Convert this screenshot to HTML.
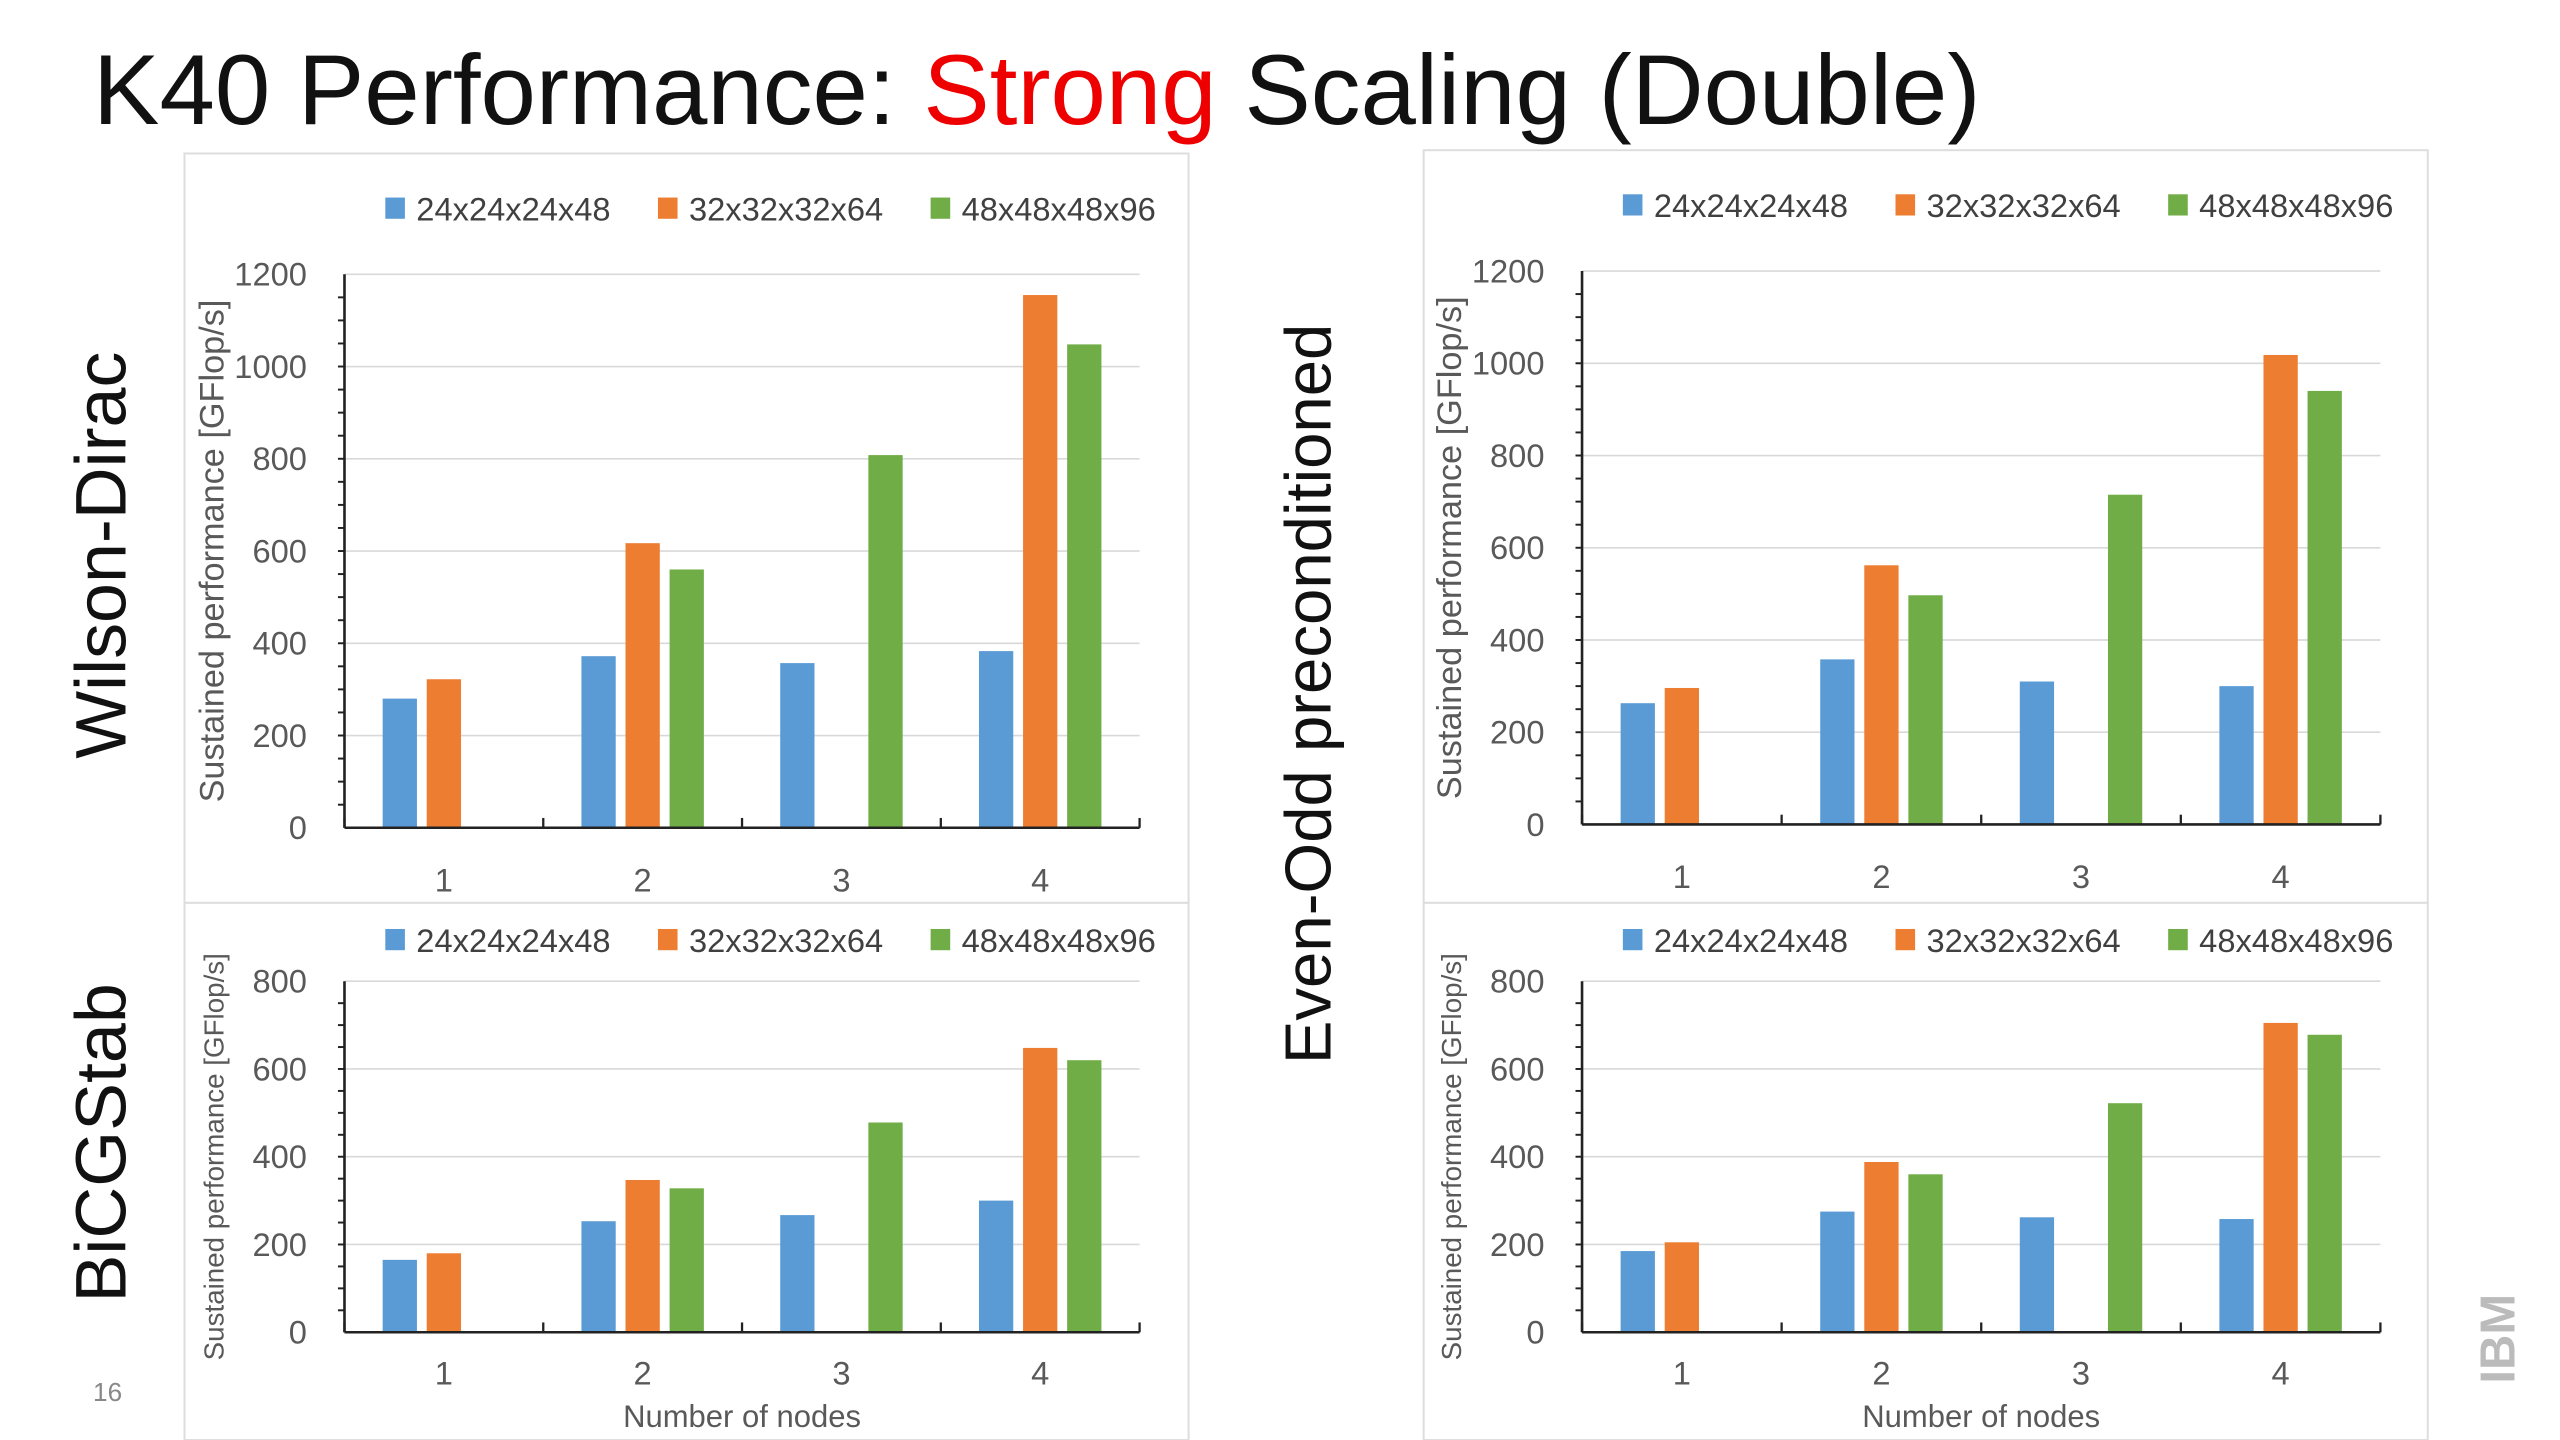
<!DOCTYPE html>
<html><head><meta charset="utf-8"><style>
html,body{margin:0;padding:0;background:#fff;width:2560px;height:1440px;overflow:hidden}
svg{display:block}
</style></head><body>
<svg id="s" width="2560" height="1440" viewBox="0 0 1568 882" preserveAspectRatio="none" xmlns="http://www.w3.org/2000/svg" font-family="'Liberation Sans', sans-serif">
<text x="57" y="76" font-size="61" fill="#111">K40 Performance: <tspan fill="#ee0000">Strong</tspan> Scaling (Double)</text>
<text transform="translate(77,340) rotate(-90)" text-anchor="middle" font-size="44" fill="#111">Wilson-Dirac</text>
<text transform="translate(77,700) rotate(-90)" text-anchor="middle" font-size="44" fill="#111">BiCGStab</text>
<text transform="translate(815,425) rotate(-90)" text-anchor="middle" font-size="40" fill="#111">Even-Odd preconditioned</text>
<text x="57" y="858" font-size="16" fill="#888" font-family="'Liberation Sans Narrow','Liberation Sans',sans-serif">16</text>
<text transform="translate(1540,820) rotate(-90)" text-anchor="middle" font-size="30" font-weight="bold" fill="#bbb">IBM</text>
<g id="charts"></g>
</svg>
<script>
const categories = ["1","2","3","4"];
const seriesNames = ["24x24x24x48","32x32x32x64","48x48x48x96"];
const wilsonSmall = [280,372,357,383];
const wilsonMid = [322,617,null,1155];
const wilsonLarge = [null,560,808,1048];
const evenOddSmall = [263,358,310,300];
const evenOddMid = [296,562,null,1018];
const evenOddLarge = [null,497,715,940];
const bicgSmall = [165,253,267,300];
const bicgMid = [180,347,null,648];
const bicgLarge = [null,328,478,620];
const eoBicgSmall = [185,275,262,258];
const eoBicgMid = [205,388,null,705];
const eoBicgLarge = [null,360,522,678];
const ticksTall = [0,200,400,600,800,1000,1200];
const ticksShort = [0,200,400,600,800];

const colors = ["#5B9BD5","#ED7D31","#70AD47"];
const NS="http://www.w3.org/2000/svg";
const root=document.getElementById('charts');
function mk(tag,attrs,parent){const e=document.createElementNS(NS,tag);for(const k in attrs)e.setAttribute(k,attrs[k]);(parent||root).appendChild(e);return e;}
const narrow="'Liberation Sans Narrow','Liberation Sans',sans-serif";

function chart(cfg){
  const g=mk('g',{});
  
  
  const box=mk('rect',{x:cfg.bx,y:cfg.by,width:cfg.bw,height:cfg.bh,fill:'#fff',stroke:'#ddd','stroke-width':1.2},g);
  
  
  const ymax=cfg.ticks[cfg.ticks.length-1];
  const y=v=>cfg.y0-(v/ymax)*(cfg.y0-cfg.y1);
  const step=(cfg.x1-cfg.x0)/categories.length;
  const xc=i=>cfg.x0+step*(i+0.5);
  cfg.ticks.forEach(t=>{
    if(t>0){const l=mk('line',{x1:cfg.x0,x2:cfg.x1,y1:y(t),y2:y(t),stroke:'#d9d9d9','stroke-width':1},g);
      
      }
    const tx=mk('text',{x:cfg.x0-23,y:y(t)+7,'text-anchor':'end','font-size':20,fill:'#595959','font-family':narrow},g);
    tx.textContent=t;
    
    
  });
  const nMinor=(cfg.ticks.length-1)*4;
  for(let k=1;k<nMinor;k++){const v=ymax*k/nMinor;
    mk('line',{x1:cfg.x0-4,x2:cfg.x0,y1:y(v),y2:y(v),stroke:'#222','stroke-width':1.2},g);}
  cfg.series.forEach((arr,si)=>{
    arr.forEach((v,i)=>{
      if(v==null)return;
      const r=mk('rect',{x:xc(i)+(si-1)*27-10.5,y:y(v),width:21,height:cfg.y0-y(v),fill:colors[si]},g);
      
      
    });
  });
  mk('line',{x1:cfg.x0,x2:cfg.x0,y1:cfg.y1,y2:cfg.y0,stroke:'#222','stroke-width':1.6},g);
  mk('line',{x1:cfg.x0,x2:cfg.x1,y1:cfg.y0,y2:cfg.y0,stroke:'#222','stroke-width':1.6},g);
  for(let i=0;i<=categories.length;i++){mk('line',{x1:cfg.x0+step*i,x2:cfg.x0+step*i,y1:cfg.y0-6,y2:cfg.y0,stroke:'#222','stroke-width':1.4},g);}
  categories.forEach((c,i)=>{
    const t=mk('text',{x:xc(i),y:cfg.y0+cfg.xlOff,'text-anchor':'middle','font-size':20,fill:'#595959','font-family':narrow},g);
    t.textContent=c;
    
    
  });
  const yt=mk('text',{transform:`translate(${cfg.x0-74},${(cfg.y0+cfg.y1)/2}) rotate(-90)`,'text-anchor':'middle','font-size':cfg.ytSize,fill:'#595959'},g);
  yt.textContent='Sustained performance [GFlop/s]';
  
  
  if(cfg.xTitle){
    const xt=mk('text',{x:(cfg.x0+cfg.x1)/2,y:cfg.y0+58,'text-anchor':'middle','font-size':19,fill:'#595959','font-family':narrow},g);
    xt.textContent='Number of nodes';
    
    
  }
  seriesNames.forEach((n,si)=>{
    const lx=cfg.x0+25+si*167;
    const sq=mk('rect',{x:lx,y:cfg.ly-7,width:12,height:13,fill:colors[si]},g);
    
    
    const t=mk('text',{x:lx+19,y:cfg.ly+7,'font-size':20,fill:'#404040','font-family':narrow},g);
    t.textContent=n;
    
    
  });
}
chart({name:'chart-wilson-dirac',bx:113,by:94,bw:615,bh:459,x0:211,x1:698,y0:507,y1:168,ticks:ticksTall,series:[wilsonSmall,wilsonMid,wilsonLarge],ly:128,ytSize:21,xlOff:39});
chart({name:'chart-even-odd',bx:872,by:92,bw:615,bh:461,x0:969,x1:1458,y0:505,y1:166,ticks:ticksTall,series:[evenOddSmall,evenOddMid,evenOddLarge],ly:126,ytSize:21,xlOff:39});
chart({name:'chart-bicgstab',bx:113,by:553,bw:615,bh:329,x0:211,x1:698,y0:816,y1:601,ticks:ticksShort,series:[bicgSmall,bicgMid,bicgLarge],ly:576,ytSize:17,xTitle:true,xlOff:32});
chart({name:'chart-even-odd-bicgstab',bx:872,by:553,bw:615,bh:329,x0:969,x1:1458,y0:816,y1:601,ticks:ticksShort,series:[eoBicgSmall,eoBicgMid,eoBicgLarge],ly:576,ytSize:17,xTitle:true,xlOff:32});
</script>
</body></html>
